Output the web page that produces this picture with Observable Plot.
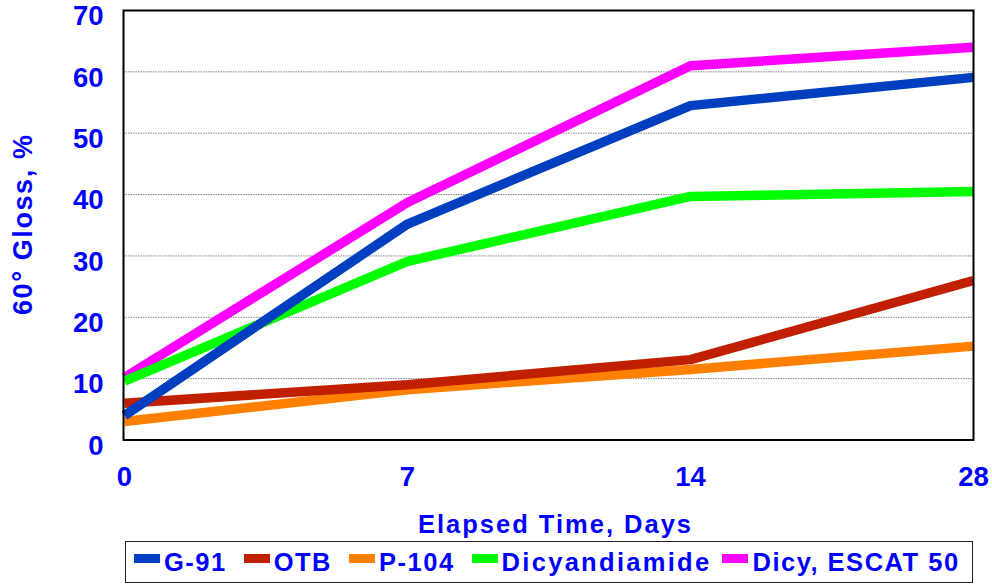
<!DOCTYPE html>
<html>
<head>
<meta charset="utf-8">
<script src="https://cdn.jsdelivr.net/npm/d3@7"></script>
<script src="https://cdn.jsdelivr.net/npm/@observablehq/plot@0.6"></script>
<style>
  html, body { margin: 0; padding: 0; background: #fff; }
  #chart { position: relative; width: 992px; height: 586px; font-family: "Liberation Sans", Arial, sans-serif; }
  #chart svg { position: absolute; left: 0; top: 0; }
  #legend {
    position: absolute; left: 125px; top: 541px; width: 838px; height: 40px;
    border: 1.5px solid #222; box-sizing: content-box;
    display: flex; align-items: center; padding-left: 8px;
    font-weight: bold; font-size: 25.5px; color: #0000ff; letter-spacing: 1.5px;
  }
  .item { display: flex; align-items: center; margin-right: 17px; white-space: nowrap; }
  .item.wide { letter-spacing: 2.3px; margin-right: 11px; }
  .sw { width: 26px; height: 9px; margin-right: 4px; margin-top: -7px; }
</style>
</head>
<body>
<div id="chart"></div>
<script>
// Gloss development over time for five curing agents
const days = [0, 7, 14, 28];
const seriesNames = ["G-91", "OTB", "P-104", "Dicyandiamide", "Dicy, ESCAT 50"];
const seriesColors = ["#0040c0", "#c02000", "#ff8000", "#00ff00", "#ff00ff"];
const g91 = [4.0, 35.2, 54.5, 59.1];
const otb = [6.0, 9.0, 13.1, 26.0];
const p104 = [3.0, 8.2, 11.5, 15.3];
const dicyandiamide = [9.6, 29.1, 39.7, 40.5];
const dicyEscat50 = [10.2, 38.7, 61.0, 64.0];
const yTicks = [0, 10, 20, 30, 40, 50, 60, 70];
const gridTicks = [10, 20, 30, 40, 50, 60];
const xTitle = "Elapsed Time, Days";
const yTitle = "60° Gloss, %";

const values = [g91, otb, p104, dicyandiamide, dicyEscat50];

// last series first so G-91 is drawn on top
const rows = [];
for (let s = seriesNames.length - 1; s >= 0; s--) {
  days.forEach((d, i) => rows.push({series: seriesNames[s], day: d, gloss: values[s][i]}));
}

const blue = "#0000ff";
const font = "'Liberation Sans', Arial, sans-serif";

const plot = Plot.plot({
  width: 992,
  height: 540,
  marginLeft: 123,
  marginRight: 19,
  marginTop: 10,
  marginBottom: 100.5,
  style: {fontFamily: font, fontWeight: "bold", background: "transparent"},
  x: {type: "point", domain: days, padding: 0},
  y: {domain: [0, 70]},
  color: {domain: seriesNames, range: seriesColors},
  marks: [
    Plot.gridY(gridTicks, {stroke: "#808080", strokeOpacity: 1, strokeDasharray: "1.5,1"}),
    Plot.line(rows, {
      x: "day", y: "gloss", z: "series", stroke: "series",
      strokeWidth: 9.5, strokeLinejoin: "miter", strokeLinecap: "butt", curve: "linear"
    }),
    Plot.frame({stroke: "#000", strokeWidth: 2}),
    Plot.axisY(yTicks, {
      tickSize: 0, tickPadding: 20, fontSize: 27.5, fill: blue, dy: 6, label: null
    }),
    Plot.axisX(days, {
      tickSize: 0, tickPadding: 26, fontSize: 27.5, fill: blue, label: null
    }),
    Plot.text([xTitle], {
      frameAnchor: "bottom", lineAnchor: "bottom", textAnchor: "middle", dy: 92.5, dx: 7,
      fontSize: 25.5, fill: blue, fontWeight: "bold"
    }),
    Plot.text([yTitle], {
      frameAnchor: "left", textAnchor: "middle", rotate: -90, dx: -100, dy: -1,
      fontSize: 27, fill: blue, fontWeight: "bold"
    })
  ]
});

// wider tracking on the two axis titles
d3.select(plot).selectAll("text")
  .filter(function () { return this.textContent === xTitle; })
  .style("letter-spacing", "2px");
d3.select(plot).selectAll("text")
  .filter(function () { return this.textContent === yTitle; })
  .style("letter-spacing", "1.6px");

const chart = document.getElementById("chart");
chart.appendChild(plot);

// legend row built from the same series names and colours
const legend = document.createElement("div");
legend.id = "legend";
seriesNames.forEach((name, i) => {
  const item = document.createElement("div");
  item.className = name === "Dicyandiamide" ? "item wide" : "item";
  const sw = document.createElement("span");
  sw.className = "sw";
  sw.style.background = seriesColors[i];
  const label = document.createElement("span");
  label.textContent = name;
  item.appendChild(sw);
  item.appendChild(label);
  legend.appendChild(item);
});
chart.appendChild(legend);
</script>
</body>
</html>
